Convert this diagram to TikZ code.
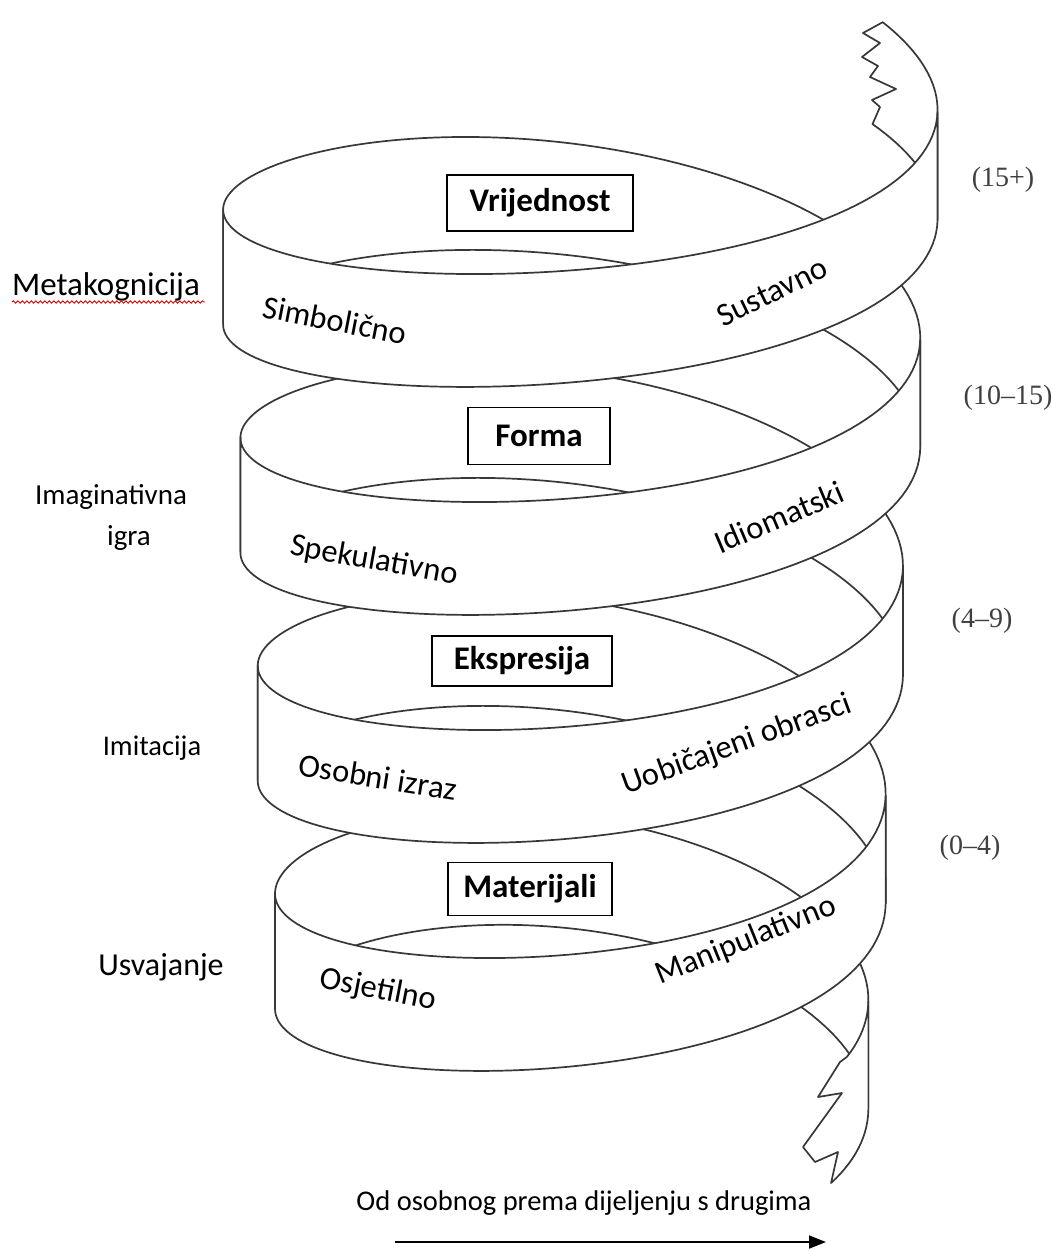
\documentclass[tikz,border=0pt]{standalone}
\usepackage{fontspec}
\setmainfont{Carlito}
\newfontfamily\agefont{Liberation Serif}
\usetikzlibrary{arrows.meta,decorations.pathmorphing}
\newcommand\helixpart[2]{%
  \path[band] plot[domain=#1:#2,samples=80] ({hx(\x)},{ht(\x)})
    -- plot[domain=#2:#1,samples=80] ({hx(\x)},{hb(\x)}) -- cycle;}
\begin{document}
\begin{tikzpicture}[x=1pt,y=-1pt,
  declare function={
    radi(\x)=301+17.3*\x;
    hx(\x)=576-radi(\x)*cos(360*\x);
    corr(\x)=max(-22,min(0,44*\x));
    ht(\x)=893-228*\x+(120-10*sin(360*\x))*sin(360*\x)+8-8*cos(360*\x)+corr(\x);
    hb(\x)=ht(\x)+112+3*cos(360*\x);
  },
  band/.style={draw=black!78, line width=1.7pt, fill=white, line join=round},
  box/.style={draw=black, line width=1.3pt, fill=white, inner sep=0pt,
    font=\bfseries\fontsize{33}{39}\selectfont},
  blab/.style={font=\fontsize{32.5}{38}\selectfont, inner sep=0pt},
  age/.style={font=\agefont\fontsize{28}{32}\selectfont, text=black!75, inner sep=0pt}]
\useasboundingbox (0,0) rectangle (1052,1251);
\fill[white] (0,0) rectangle (1052,1251);
% back halves (inner faces)
\helixpart{-0.5}{0}
\helixpart{0.5}{1}
\helixpart{1.5}{2}
\helixpart{2.5}{3}
% torn top end
\path[band] plot[domain=3.5:3.59,samples=20] ({hx(\x)},{ht(\x)})
  -- (863,33) -- (880,43) -- (862,57) -- (878,66) -- (870,77) -- (896,89)
  -- (872,100) -- (880,107)
  -- plot[domain=3.598:3.5,samples=20] ({hx(\x)},{hb(\x)}) -- cycle;
% torn bottom end
\path[band] plot[domain=-0.56:-0.5,samples=15] ({hx(\x)},{ht(\x)})
  -- plot[domain=-0.5:-0.58,samples=15] ({hx(\x)},{hb(\x)})
  -- (838,1152) -- (815,1162) -- (803,1147) -- (842,1093) -- (818,1097)
  -- (840,1062) -- cycle;
% front halves
\helixpart{0}{0.5}
\helixpart{1}{1.5}
\helixpart{2}{2.5}
\helixpart{3}{3.5}
% boxes
\node[box, minimum width=186pt, minimum height=56pt] (bV) at (540,203) {Vrijednost};
\node[box, minimum width=142pt, minimum height=57pt] (bF) at (539,436) {Forma};
\node[box, minimum width=180pt, minimum height=50pt] (bE) at (522,661) {Ekspresija};
\node[box, minimum width=164pt, minimum height=53pt] (bM) at (530,889) {Materijali};
% band labels
\node[blab, rotate=-11] (lSim) at (335,320) {Simbolično};
\node[blab, rotate=26] (lSus) at (772,292) {Sustavno};
\node[blab, rotate=-10] (lSpe) at (374,561) {Spekulativno};
\node[blab, rotate=23] (lIdi) at (779,517) {Idiomatski};
\node[blab, rotate=-9] (lOso) at (378,777) {Osobni izraz};
\node[blab, rotate=20] (lUob) at (737,745) {Uobičajeni obrasci};
\node[blab, rotate=-11] (lOsj) at (378,990) {Osjetilno};
\node[blab, rotate=22] (lMan) at (746,941) {Manipulativno};
% left labels
\node[font=\fontsize{33}{39}\selectfont, inner sep=0pt] (lMeta) at (106,287) {Metakognicija};
\draw[red!85!black, line width=0.9pt, decorate,
  decoration={snake, segment length=4.5pt, amplitude=1.2pt}]
  (12,302) coordinate (sqA) -- (205,302) coordinate (sqB);
\node[font=\fontsize{29}{35}\selectfont, inner sep=0pt] (lIma) at (111,497) {Imaginativna};
\node[font=\fontsize{29}{35}\selectfont, inner sep=0pt] (lIgr) at (129,538) {igra};
\node[font=\fontsize{28.5}{34}\selectfont, inner sep=0pt] (lImi) at (152,748) {Imitacija};
\node[font=\fontsize{32}{38}\selectfont, inner sep=0pt] (lUsv) at (161,967) {Usvajanje};
% ages
\node[age] (a1) at (1003,180) {(15+)};
\node[age] (a2) at (1008,398) {(10–15)};
\node[age] (a3) at (982,621) {(4–9)};
\node[age] (a4) at (970,848) {(0–4)};
% bottom arrow
\node[font=\fontsize{28.5}{34}\selectfont, inner sep=0pt] (lOd) at (584,1203) {Od osobnog prema dijeljenju s drugima};
\coordinate (arL) at (395,1242);
\coordinate (arR) at (826,1242);
\draw[line width=1.8pt, -{Triangle[length=17pt,width=13pt]}] (arL) -- (arR);
\end{tikzpicture}
\end{document}
